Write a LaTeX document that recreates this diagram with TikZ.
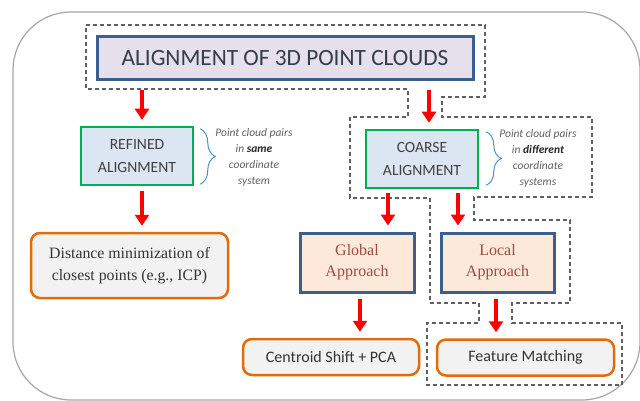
\documentclass[tikz,border=0pt]{standalone}
\usepackage{fontspec}
\setmainfont{Liberation Serif}
\setsansfont{Carlito}
\usetikzlibrary{arrows.meta,decorations.pathreplacing,positioning}

\definecolor{framegray}{HTML}{A6A6A6}
\definecolor{dashgray}{HTML}{606060}
\definecolor{titlefill}{HTML}{E6E0EC}
\definecolor{titletext}{HTML}{353C4A}
\definecolor{boxblue}{HTML}{3B5E8C}
\definecolor{boxgreen}{HTML}{00B050}
\definecolor{alignfill}{HTML}{DCE6F2}
\definecolor{approachfill}{HTML}{FDE9D9}
\definecolor{approachtext}{HTML}{9B4A44}
\definecolor{methodfill}{HTML}{F2F2F2}
\definecolor{methodorange}{HTML}{E36C09}
\definecolor{bracecolor}{HTML}{4A90D0}
\definecolor{arrowred}{HTML}{FF0000}

\tikzset
{
    titlebox/.style    = {rectangle, draw=boxblue, line width=3pt, fill=titlefill, text=titletext, font=\sffamily\fontsize{23.3}{27}\selectfont, minimum width=376pt, minimum height=43pt},
    alignbox/.style    = {rectangle, draw=boxgreen, line width=2.5pt, fill=alignfill, text=black!75, align=center, font=\sffamily\fontsize{15.6}{23}\selectfont, minimum width=112pt, minimum height=58pt},
    approachbox/.style = {rectangle, draw=boxblue, line width=3pt, fill=approachfill, text=approachtext, align=center, font=\rmfamily\fontsize{16}{21}\selectfont, minimum width=113pt, minimum height=59pt},
    methodbox/.style   = {rectangle, rounded corners=9pt, draw=methodorange, line width=2.5pt, fill=methodfill, text=black!80, align=center, font=\sffamily\fontsize{16}{18}\selectfont, minimum height=36pt},
    notetext/.style    = {align=center, text=dashgray, font=\sffamily\itshape\fontsize{11.5}{16}\selectfont},
    flowarrow/.style   = {draw=arrowred, line width=4pt, -{Triangle[width=14pt,length=11pt]}, shorten >=6pt},
    notebrace/.style   = {draw=bracecolor, line width=1pt, decorate, decoration={brace, amplitude=15pt}},
    pathline/.style    = {draw=dashgray, line width=1.1pt, dash pattern=on 4pt off 3pt},
    framebox/.style    = {draw=framegray, line width=1.2pt, rounded corners=58pt}
}

\begin{document}
\begin{tikzpicture}[x=1pt, y=-1pt]
\useasboundingbox (0,0) rectangle (640,401);
\clip (0,0) rectangle (640,401);

% outer frame
\draw[framebox] (13,12) rectangle (640,400);

% dashed outline along the coarse branch
\draw[pathline] (86,25) -- (485,25) -- (485,97) -- (442,97) -- (442,117) -- (592,117)
    -- (592,197) -- (474,197) -- (474,220) -- (570,220) -- (570,303) -- (512,303)
    -- (512,323) -- (622,323) -- (622,385) -- (427,385) -- (427,323) -- (479,323)
    -- (479,303) -- (430,303) -- (430,198) -- (350,198) -- (350,117) -- (408,117)
    -- (408,89) -- (86,89) -- cycle;

% boxes
\node[titlebox] (title) at (285,58.5) {ALIGNMENT OF 3D POINT CLOUDS};

\node[alignbox] (refined) at (137,156) {REFINED\\ALIGNMENT};
\node[alignbox] (coarse) at (422,159) {COARSE\\ALIGNMENT};

\node[methodbox, font=\rmfamily\fontsize{15.8}{22}\selectfont, minimum width=197pt, minimum height=65pt] (distance) at (129.5,265.5) {Distance minimization of\\closest points (e.g., ICP)};

\node[approachbox, minimum width=114pt] (global) at (357,262.5) {Global\\Approach};
\node[approachbox] (local) at (497.5,262.5) {Local\\Approach};

\node[methodbox, minimum width=176pt] (centroid) at (331,357) {Centroid Shift + PCA};
\node[methodbox, minimum width=177pt] (feature) at (525.5,357.5) {Feature Matching};

% notes beside the alignment boxes
\draw[notebrace] ([shift={(6,3)}]refined.north east) -- ([shift={(6,-2)}]refined.south east);
\node[notetext] (samenote) at (254,157) {Point cloud pairs\\in \textbf{\color{black!85}same}\\coordinate\\system};

\draw[notebrace] ([shift={(7,3)}]coarse.north east) -- ([shift={(7,-4)}]coarse.south east);
\node[notetext] (diffnote) at (538,158.5) {Point cloud pairs\\in \textbf{\color{black!85}different}\\coordinate\\systems};

% arrows
\draw[flowarrow, shorten <=9pt] ([xshift=-143pt]title.south) -- ([xshift=-143pt]title.south |- refined.north);
\draw[flowarrow, shorten <=9pt] ([xshift=144pt]title.south) -- ([xshift=144pt]title.south |- coarse.north);
\draw[flowarrow, shorten <=5pt] ([xshift=5pt]refined.south) -- ([xshift=5pt]refined.south |- distance.north);
\draw[flowarrow, shorten <=4pt] ([xshift=-34pt]coarse.south) -- ([xshift=-34pt]coarse.south |- global.north);
\draw[flowarrow, shorten <=4pt] ([xshift=36pt]coarse.south) -- ([xshift=36pt]coarse.south |- local.north);
\draw[flowarrow, shorten <=5pt] ([xshift=3pt]global.south) -- ([xshift=3pt]global.south |- centroid.north);
\draw[flowarrow, shorten <=5pt] ([xshift=-1.5pt]local.south) -- ([xshift=-1.5pt]local.south |- feature.north);
\end{tikzpicture}
\end{document}
